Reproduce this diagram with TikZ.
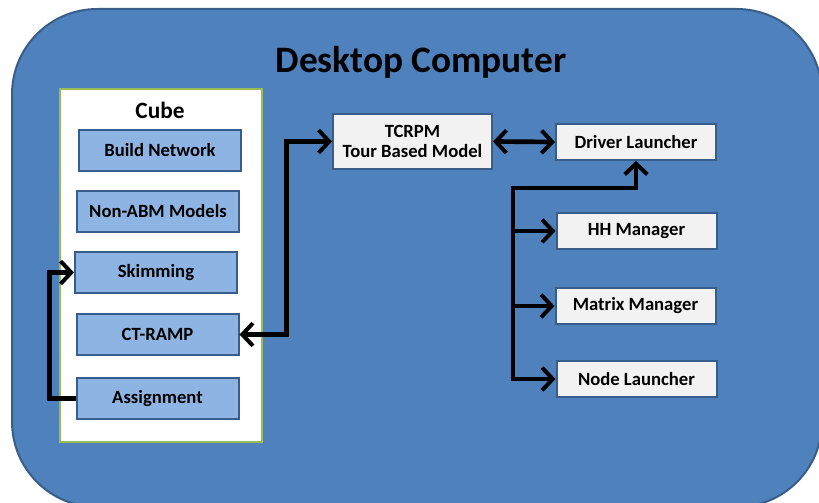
\documentclass[tikz,border=0pt]{standalone}
\usepackage{fontspec}
\setmainfont{Carlito}
\usepackage{tikz}
\usetikzlibrary{arrows.meta}

\definecolor{deskblue}{RGB}{79,129,189}
\definecolor{deskline}{RGB}{56,93,138}
\definecolor{cubegreen}{RGB}{155,187,89}
\definecolor{modblue}{RGB}{141,180,226}
\definecolor{procgrey}{RGB}{242,242,242}

\begin{document}
\begin{tikzpicture}[x=0.75pt,y=0.75pt,yscale=-1,xscale=1,
    modbox/.style={draw=deskline,line width=1.5pt,fill=modblue,inner sep=0pt,
      minimum width=121.5pt,minimum height=30.75pt,font=\bfseries\fontsize{14}{16}\selectfont},
    procbox/.style={draw=deskline,line width=1.5pt,fill=procgrey,inner sep=0pt,
      minimum width=120pt,minimum height=27pt,font=\bfseries\fontsize{14}{16}\selectfont},
    link/.style={line width=3.5pt,line join=miter,
      arrows={-Straight Barb[length=8pt,width=17pt,line width=3pt]}},
    link2/.style={line width=3.5pt,line join=miter,
      arrows={Straight Barb[length=8pt,width=17pt,line width=3pt]-Straight Barb[length=8pt,width=17pt,line width=3pt]}}]

    \useasboundingbox (0,0) rectangle (819,503);
    \clip (0,0) rectangle (819,503);

    % desktop frame
    \draw [draw=deskline,fill=deskblue,line width=1.5pt,rounded corners=64pt] (12,9) rectangle (822,507);
    \node (title) at (421,62) {\bfseries\fontsize{28}{32}\selectfont Desktop Computer};

    % cube
    \node (cube) [draw=cubegreen,line width=1.5pt,fill=white,minimum width=151.5pt,minimum height=264.75pt] at (161,265.5) {};
    \node (cubetitle) at (160,110) {\bfseries\fontsize{17.5}{20}\selectfont Cube};
    \node (bnet) [modbox] at (160,150.5) {Build Network};
    \node (nonabm) [modbox] at (158,211.5) {Non-ABM Models};
    \node (skim) [modbox] at (156,272.5) {Skimming};
    \node (ctramp) [modbox] at (157.5,334.5) {CT-RAMP};
    \node (assign) [modbox] at (157.5,398.5) {Assignment};

    % tour based model and launchers
    \node (tcrpm) [procbox,minimum width=119.25pt,minimum height=41.25pt,align=center] at (412.5,141.5) {TCRPM\\[-1pt]Tour Based Model};
    \node (driver) [procbox] at (636,142) {Driver Launcher};
    \node (hhman) [procbox] at (636.5,231) {HH Manager};
    \node (matman) [procbox] at (635.5,306) {Matrix Manager};
    \node (nodelaunch) [procbox] at (636.5,379) {Node Launcher};
    \coordinate (bustop) at (513,188);

    % connectors
    \draw [link] (assign.west) -- ++(-26,0) |- (skim.west);
    \draw [link2] (ctramp.east) -- ++(47,0) |- (tcrpm.west);
    \draw [link2] (tcrpm.east) -- (driver.west);
    \draw [link2] (nodelaunch.west) -| (bustop) -| (driver.south);
    \draw [link] (bustop |- hhman.west) -- (hhman.west);
    \draw [link] (bustop |- matman.west) -- (matman.west);

\end{tikzpicture}
\end{document}
